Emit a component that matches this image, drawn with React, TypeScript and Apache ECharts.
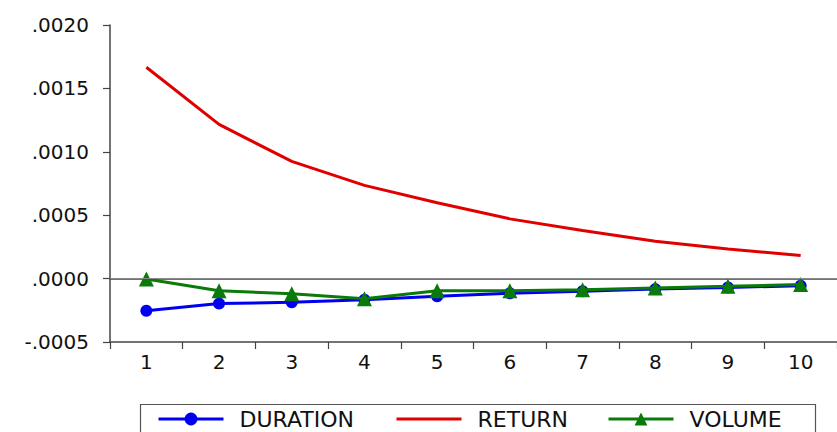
import React, { useEffect, useRef } from "react";
import * as echarts from "echarts";

const categories = ["1", "2", "3", "4", "5", "6", "7", "8", "9", "10"];
const duration = [-0.000253, -0.000197, -0.000187, -0.000166, -0.00014, -0.000115, -0.0001, -0.000083, -0.00007, -0.000056];
const returns = [0.001667, 0.001216, 0.000924, 0.000735, 0.000598, 0.000471, 0.000379, 0.000295, 0.000234, 0.000182];
const volume = [-0.000003, -0.000095, -0.00012, -0.000158, -0.000095, -0.000095, -0.000087, -0.000074, -0.000061, -0.000047];
const seriesNames = ["DURATION", "RETURN", "VOLUME"];
const legendLefts = [157, 395, 607];

const FONT = "DejaVu Sans, Liberation Sans, Arial, sans-serif";
const BLUE = "#0000f0";
const RED = "#e00000";
const GREEN = "#0a7a0a";

export default function App() {
  const ref = useRef<HTMLDivElement>(null);
  useEffect(() => {
    const chart = echarts.init(ref.current!, null, { renderer: "svg" });
    const legends = seriesNames.map((name, i) => ({
      left: legendLefts[i],
      top: 408,
      padding: 0,
      itemWidth: 65,
      itemHeight: 16,
      lineStyle: { width: 3 },
      textStyle: { fontSize: 22, color: "#111", fontFamily: FONT, padding: [0, 0, 0, 11] },
      data: [name === "RETURN" ? { name, itemStyle: { opacity: 0 } } : name],
    }));
    chart.setOption({
      animation: false,
      backgroundColor: "#ffffff",
      textStyle: { fontFamily: FONT },
      grid: { left: 110, top: 25, right: -9, bottom: 90, containLabel: false },
      legend: legends,
      graphic: [
        {
          type: "rect",
          shape: { x: 140.5, y: 404.5, width: 675, height: 40 },
          style: { fill: "none", stroke: "#555", lineWidth: 1.2 },
          silent: true,
        },
      ],
      xAxis: [
        {
          type: "category",
          data: categories,
          boundaryGap: true,
          axisLine: { onZero: false, lineStyle: { color: "#444", width: 1.5 } },
          axisTick: { show: true, length: 7, lineStyle: { color: "#444", width: 1.2 } },
          axisLabel: { fontSize: 20, color: "#111", margin: 10, fontFamily: FONT },
          splitLine: { show: false },
        },
        {
          type: "category",
          data: categories,
          position: "top",
          axisLine: { show: true, lineStyle: { color: "#444", width: 1.5 } },
          axisTick: { show: false },
          axisLabel: { show: false },
        },
      ],
      yAxis: {
        type: "value",
        min: -0.0005,
        max: 0.002,
        interval: 0.0005,
        axisLine: { show: true, lineStyle: { color: "#444", width: 1.5 } },
        axisTick: { show: true, length: 7, lineStyle: { color: "#444", width: 1.2 } },
        splitLine: { show: false },
        axisLabel: {
          fontSize: 20,
          color: "#111",
          margin: 21,
          fontFamily: FONT,
          formatter: (v: number) => {
            const s = Math.abs(v).toFixed(4).replace(/^0/, "");
            return v < -1e-12 ? "-" + s : s;
          },
        },
      },
      series: [
        {
          name: "DURATION",
          type: "line",
          data: duration,
          symbol: "circle",
          symbolSize: 12,
          lineStyle: { color: BLUE, width: 3 },
          itemStyle: { color: BLUE },
          z: 3,
          markLine: {
            silent: true,
            symbol: "none",
            label: { show: false },
            lineStyle: { color: "#888", width: 1, type: "solid" },
            data: [{ yAxis: 0 }],
          },
        },
        {
          name: "RETURN",
          type: "line",
          data: returns,
          symbol: "none",
          lineStyle: { color: RED, width: 3 },
          itemStyle: { color: RED },
          z: 2,
        },
        {
          name: "VOLUME",
          type: "line",
          data: volume,
          symbol: "triangle",
          symbolSize: 15,
          lineStyle: { color: GREEN, width: 3 },
          itemStyle: { color: GREEN },
          z: 4,
        },
      ],
    });
    return () => chart.dispose();
  }, []);
  return (
    <div
      ref={ref}
      style={{ position: "absolute", left: 0, top: 0, width: 837, height: 432 }}
    />
  );
}
